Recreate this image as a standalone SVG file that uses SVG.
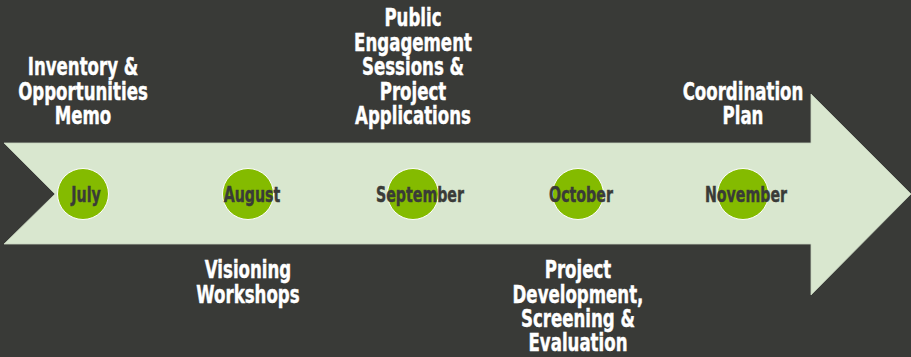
<svg xmlns="http://www.w3.org/2000/svg" width="911" height="357" viewBox="0 0 911 357">
<style>
.lbl{font-family:"DejaVu Sans Condensed","DejaVu Sans",sans-serif;font-weight:bold;font-size:24px;fill:#ffffff;stroke:#ffffff;stroke-width:0.4;text-anchor:middle}
.mon{font-family:"DejaVu Sans Condensed","DejaVu Sans",sans-serif;font-weight:bold;font-size:20.5px;fill:#3a3b38;stroke:#3a3b38;stroke-width:0.4;text-anchor:middle}
.dot{fill:#84bb00;stroke:#ffffff;stroke-width:1}
</style>
<rect width="911" height="357" fill="#393a37"/>
<g id="connectors">
<polygon points="4,143 811,143 811,94 911,194 811,295 811,244 4,244 55,194" fill="#d9e7cf" stroke="#c8d4bf" stroke-width="0.8"/>
</g>
<g id="july">
<circle class="dot" cx="83" cy="194" r="25.5"/>
<text class="mon" transform="matrix(0.77 0 0 1 86 202)">July</text>
<text class="lbl" transform="matrix(0.77 0 0 1 83 75)">Inventory &amp;</text>
<text class="lbl" transform="matrix(0.77 0 0 1 83 99.5)">Opportunities</text>
<text class="lbl" transform="matrix(0.77 0 0 1 83 124)">Memo</text>
</g>
<g id="august">
<circle class="dot" cx="248" cy="194" r="25.5"/>
<text class="mon" transform="matrix(0.77 0 0 1 252 202)">August</text>
<text class="lbl" transform="matrix(0.77 0 0 1 248 278)">Visioning</text>
<text class="lbl" transform="matrix(0.77 0 0 1 248 302.5)">Workshops</text>
</g>
<g id="september">
<circle class="dot" cx="413" cy="194" r="25.5"/>
<text class="mon" transform="matrix(0.77 0 0 1 420 202)">September</text>
<text class="lbl" transform="matrix(0.77 0 0 1 413 26)">Public</text>
<text class="lbl" transform="matrix(0.77 0 0 1 413 50.5)">Engagement</text>
<text class="lbl" transform="matrix(0.77 0 0 1 413 75)">Sessions &amp;</text>
<text class="lbl" transform="matrix(0.77 0 0 1 413 99.5)">Project</text>
<text class="lbl" transform="matrix(0.77 0 0 1 413 124)">Applications</text>
</g>
<g id="october">
<circle class="dot" cx="578" cy="194" r="25.5"/>
<text class="mon" transform="matrix(0.77 0 0 1 581 202)">October</text>
<text class="lbl" transform="matrix(0.77 0 0 1 578 278)">Project</text>
<text class="lbl" transform="matrix(0.77 0 0 1 578 302.5)">Development,</text>
<text class="lbl" transform="matrix(0.77 0 0 1 578 327)">Screening &amp;</text>
<text class="lbl" transform="matrix(0.77 0 0 1 578 351)">Evaluation</text>
</g>
<g id="november">
<circle class="dot" cx="743" cy="194" r="25.5"/>
<text class="mon" transform="matrix(0.77 0 0 1 746 202)">November</text>
<text class="lbl" transform="matrix(0.77 0 0 1 743 99.5)">Coordination</text>
<text class="lbl" transform="matrix(0.77 0 0 1 743 124)">Plan</text>
</g>
</svg>
